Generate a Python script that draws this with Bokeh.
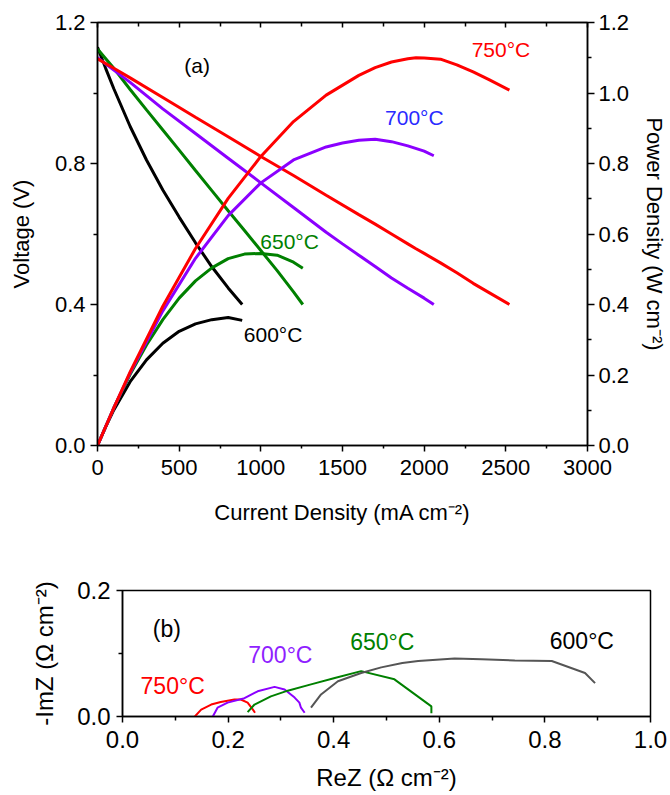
from bokeh.plotting import figure
from bokeh.models import Range1d, LinearAxis, FixedTicker, PrintfTickFormatter
from bokeh.embed import file_html
from bokeh.resources import INLINE
from bokeh.core.properties import value

FONT = "Liberation Sans"

# ---------------- Panel (a): I-V and power density ----------------
# 600 °C
i600 = [0, 50, 100, 200, 300, 400, 500, 600, 700, 800, 886]
v600 = [1.13, 1.07, 1.012, 0.905, 0.81, 0.725, 0.648, 0.575, 0.507, 0.447, 0.40]
p600 = [0, 0.053, 0.101, 0.181, 0.243, 0.290, 0.324, 0.345, 0.357, 0.363, 0.355]
# 650 °C
i650 = [0, 100, 200, 300, 400, 500, 600, 700, 800, 900, 1000, 1100, 1200, 1257]
v650 = [1.125, 1.07, 1.01, 0.952, 0.895, 0.838, 0.78, 0.723, 0.666, 0.61, 0.553, 0.496, 0.436, 0.40]
p650 = [0, 0.107, 0.202, 0.285, 0.357, 0.418, 0.467, 0.504, 0.530, 0.543, 0.545, 0.540, 0.520, 0.503]
# 700 °C
i700 = [0, 100, 200, 400, 600, 800, 1000, 1200, 1400, 1500, 1600, 1700, 1800, 1900, 2000, 2059]
v700 = [1.10, 1.065, 1.03, 0.955, 0.885, 0.815, 0.745, 0.675, 0.605, 0.572, 0.54, 0.508, 0.475, 0.446, 0.418, 0.40]
p700 = [0, 0.107, 0.206, 0.382, 0.531, 0.652, 0.745, 0.810, 0.847, 0.858, 0.866, 0.869, 0.862, 0.850, 0.835, 0.822]
# 750 °C
i750 = [0, 100, 200, 400, 600, 800, 1000, 1200, 1400, 1600, 1700, 1800, 1900, 1950, 2000, 2100, 2200, 2300, 2400, 2522]
v750 = [1.097, 1.07, 1.043, 0.987, 0.931, 0.876, 0.82, 0.766, 0.71, 0.655, 0.628, 0.60, 0.572, 0.558, 0.545, 0.518, 0.49, 0.46, 0.433, 0.40]
p750 = [0, 0.107, 0.209, 0.395, 0.559, 0.701, 0.820, 0.919, 0.994, 1.050, 1.072, 1.088, 1.097, 1.100, 1.099, 1.096, 1.080, 1.060, 1.037, 1.008]

x_ticks_a = [0, 500, 1000, 1500, 2000, 2500, 3000]
x_minor_a = [250, 750, 1250, 1750, 2250, 2750]
v_ticks = [0.0, 0.4, 0.8, 1.2]
v_minor = [0.2, 0.6, 1.0]
p_ticks = [0.0, 0.2, 0.4, 0.6, 0.8, 1.0, 1.2]
p_minor = [0.1, 0.3, 0.5, 0.7, 0.9, 1.1]

labels_a = ["750°C", "700°C", "650°C", "600°C", "(a)"]
labels_a_x = [2470, 1940, 1176, 1075, 610]
labels_a_y = [1.122, 0.930, 0.580, 0.315, 1.079]
labels_a_col = ["#ff0000", "#2a2aff", "#008000", "#000000", "#000000"]

# ---------------- Panel (b): impedance spectra ----------------
re750 = [0.137, 0.149, 0.168, 0.186, 0.212, 0.224, 0.237, 0.247, 0.251]
im750 = [0.0, 0.011, 0.019, 0.023, 0.027, 0.027, 0.022, 0.011, 0.006]
re700 = [0.171, 0.180, 0.199, 0.231, 0.256, 0.288, 0.307, 0.326, 0.335, 0.338, 0.345]
im700 = [0.0, 0.014, 0.022, 0.029, 0.040, 0.047, 0.043, 0.030, 0.022, 0.014, 0.006]
re650 = [0.237, 0.250, 0.281, 0.313, 0.357, 0.402, 0.452, 0.515, 0.585, 0.585]
im650 = [0.007, 0.019, 0.032, 0.041, 0.051, 0.061, 0.072, 0.059, 0.016, 0.005]
re600 = [0.357, 0.376, 0.408, 0.452, 0.490, 0.530, 0.560, 0.629, 0.680, 0.743, 0.813, 0.876, 0.895]
im600 = [0.014, 0.035, 0.056, 0.069, 0.078, 0.085, 0.088, 0.092, 0.091, 0.089, 0.088, 0.069, 0.053]

x_ticks_b = [0.0, 0.2, 0.4, 0.6, 0.8, 1.0]
x_minor_b = [0.1, 0.3, 0.5, 0.7, 0.9]
y_ticks_b = [0.0, 0.2]
y_minor_b = [0.1]

labels_b = ["750°C", "700°C", "650°C", "600°C", "(b)"]
labels_b_x = [0.095, 0.299, 0.492, 0.870, 0.084]
labels_b_y = [0.048, 0.097, 0.118, 0.120, 0.139]
labels_b_col = ["#ff0000", "#8f1fff", "#008000", "#000000", "#000000"]


def style_axis(ax, fs, tick_out=7, minor_out=4):
    ax.axis_line_width = 1.5
    ax.axis_line_color = "black"
    ax.major_tick_line_width = 1.5
    ax.minor_tick_line_width = 1.5
    ax.major_tick_line_color = "black"
    ax.minor_tick_line_color = "black"
    ax.major_tick_out = tick_out
    ax.major_tick_in = 0
    ax.minor_tick_out = minor_out
    ax.minor_tick_in = 0
    ax.major_label_text_font = FONT
    ax.major_label_text_font_size = fs
    ax.major_label_text_color = "black"
    ax.axis_label_text_font = FONT
    ax.axis_label_text_font_size = fs
    ax.axis_label_text_font_style = "normal"
    ax.axis_label_text_color = "black"


# ---------------- figure (a) ----------------
p1 = figure(width=670, height=530, x_range=Range1d(0, 3000), y_range=Range1d(0, 1.2),
            output_backend="svg", toolbar_location=None,
            min_border_left=97, min_border_right=83, min_border_top=22, min_border_bottom=85)
p1.extra_y_ranges = {"power": Range1d(0, 1.2)}
p1.xgrid.visible = False
p1.ygrid.visible = False
p1.outline_line_color = "black"
p1.outline_line_width = 1.5

bx = p1.below[0]
bx.ticker = FixedTicker(ticks=x_ticks_a, minor_ticks=x_minor_a)
bx.axis_label = "Current Density (mA cm⁻²)"
style_axis(bx, "22px", 6, 3)
bx.major_label_standoff = 8
bx.axis_label_standoff = 22

ly = p1.left[0]
ly.ticker = FixedTicker(ticks=v_ticks, minor_ticks=v_minor)
ly.formatter = PrintfTickFormatter(format="%.1f")
ly.axis_label = "Voltage (V)"
style_axis(ly, "22px")
ly.major_label_standoff = 5
ly.axis_label_standoff = 18

ry = LinearAxis(y_range_name="power", axis_label="Power Density (W cm⁻²)",
                ticker=FixedTicker(ticks=p_ticks, minor_ticks=p_minor),
                formatter=PrintfTickFormatter(format="%.1f"))
style_axis(ry, "22px")
ry.major_label_standoff = 4
ry.axis_label_standoff = 10
p1.add_layout(ry, "right")

tx = LinearAxis(ticker=FixedTicker(ticks=x_ticks_a, minor_ticks=x_minor_a))
style_axis(tx, "1px")
tx.major_tick_out = 0
tx.major_tick_in = 5
tx.minor_tick_out = 0
tx.minor_tick_in = 4
tx.major_label_standoff = 0
tx.major_label_text_alpha = 0
p1.add_layout(tx, "above")

lw = 3
p1.line(i600, v600, color="black", line_width=lw)
p1.line(i650, v650, color="#008000", line_width=lw)
p1.line(i700, v700, color="#8b00ff", line_width=lw)
p1.line(i750, v750, color="#ff0000", line_width=lw)
p1.line(i600, p600, color="black", line_width=lw, y_range_name="power")
p1.line(i650, p650, color="#008000", line_width=lw, y_range_name="power")
p1.line(i700, p700, color="#8b00ff", line_width=lw, y_range_name="power")
p1.line(i750, p750, color="#ff0000", line_width=lw, y_range_name="power")

p1.text(x=labels_a_x, y=labels_a_y, text=labels_a, text_color=labels_a_col,
        text_font=value(FONT), text_font_size="21px",
        text_align="center", text_baseline="middle")

# ---------------- figure (b) ----------------
p2 = figure(width=670, height=263, x_range=Range1d(0, 1.0), y_range=Range1d(0, 0.2),
            output_backend="svg", toolbar_location=None,
            min_border_left=122, min_border_right=20, min_border_top=60, min_border_bottom=77)
p2.xgrid.visible = False
p2.ygrid.visible = False
p2.outline_line_color = "black"
p2.outline_line_width = 1.5

bx2 = p2.below[0]
bx2.ticker = FixedTicker(ticks=x_ticks_b, minor_ticks=x_minor_b)
bx2.formatter = PrintfTickFormatter(format="%.1f")
bx2.axis_label = "ReZ (Ω cm⁻²)"
style_axis(bx2, "24px", 6, 4)
bx2.major_label_standoff = 8
bx2.axis_label_standoff = 13

ly2 = p2.left[0]
ly2.ticker = FixedTicker(ticks=y_ticks_b, minor_ticks=y_minor_b)
ly2.formatter = PrintfTickFormatter(format="%.1f")
ly2.axis_label = "-ImZ (Ω cm⁻²)"
style_axis(ly2, "24px", 6, 4)
ly2.major_label_standoff = 6
ly2.axis_label_standoff = 16

lw2 = 2
p2.line(re750, im750, color="#ff0000", line_width=lw2)
p2.line(re700, im700, color="#8b00ff", line_width=lw2)
p2.line(re650, im650, color="#008000", line_width=lw2)
p2.line(re600, im600, color="#555555", line_width=lw2)

p2.text(x=labels_b_x, y=labels_b_y, text=labels_b, text_color=labels_b_col,
        text_font=value(FONT), text_font_size="23px",
        text_align="center", text_baseline="middle")

open("out.html", "w").write(file_html([p1, p2], INLINE))
